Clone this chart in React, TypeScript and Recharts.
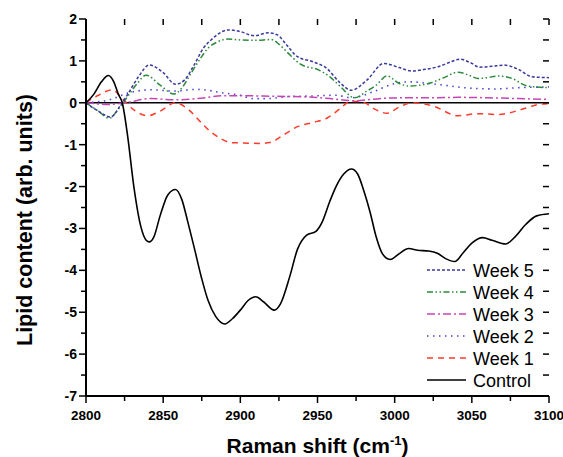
import React from 'react';
import { LineChart, Line, XAxis, YAxis, ReferenceLine } from 'recharts';

const xTicks = [2800, 2825, 2850, 2875, 2900, 2925, 2950, 2975, 3000, 3025, 3050, 3075, 3100];
const yTicks = [-7, -6.5, -6, -5.5, -5, -4.5, -4, -3.5, -3, -2.5, -2, -1.5, -1, -0.5, 0, 0.5, 1, 1.5, 2];

const controlX = [2800, 2805, 2810, 2814.5, 2818, 2821, 2823.5, 2827, 2831, 2835.5, 2839, 2841, 2844, 2848, 2853, 2858, 2862, 2866, 2870, 2875, 2879, 2884, 2890, 2895, 2900, 2905, 2910, 2915, 2922, 2926, 2932, 2937, 2943, 2949, 2953, 2958, 2962, 2967, 2972, 2976, 2980, 2984, 2988, 2992, 2997, 3003, 3009, 3015, 3022, 3028, 3033, 3039, 3044, 3050, 3057, 3063, 3072, 3078, 3085, 3092, 3100];
const controlY = [0, 0.2, 0.5, 0.65, 0.5, 0.2, 0, -0.8, -2.0, -2.95, -3.28, -3.32, -3.2, -2.7, -2.2, -2.07, -2.3, -2.85, -3.44, -4.2, -4.71, -5.1, -5.28, -5.15, -4.95, -4.72, -4.63, -4.75, -4.95, -4.8, -4.15, -3.5, -3.16, -3.07, -2.85, -2.35, -2.0, -1.7, -1.58, -1.7, -2.1, -2.6, -3.2, -3.6, -3.74, -3.6, -3.48, -3.52, -3.54, -3.6, -3.72, -3.79, -3.6, -3.35, -3.22, -3.28, -3.37, -3.2, -2.9, -2.7, -2.65];

const week5X = [2800, 2808, 2816, 2822, 2827, 2834, 2841, 2850, 2858, 2864, 2870, 2876, 2881, 2886, 2892, 2900, 2909, 2918, 2924, 2930, 2937, 2947, 2956, 2964, 2972, 2982, 2993, 3003, 3011, 3020, 3028, 3036, 3042, 3049, 3055, 3063, 3071, 3080, 3089, 3100];
const week5Y = [0, -0.2, -0.34, -0.08, 0.2, 0.62, 0.9, 0.72, 0.44, 0.55, 0.9, 1.3, 1.5, 1.65, 1.74, 1.7, 1.6, 1.67, 1.62, 1.38, 1.1, 0.98, 0.82, 0.5, 0.3, 0.54, 0.94, 0.84, 0.76, 0.8, 0.86, 0.97, 1.04, 0.96, 0.85, 0.87, 0.9, 0.8, 0.62, 0.6];

const week4X = [2800, 2808, 2815, 2821, 2827, 2833, 2839, 2848, 2857, 2862, 2868, 2874, 2879, 2885, 2892, 2900, 2910, 2920, 2925, 2930, 2939, 2951, 2958, 2965, 2974, 2982, 2988, 2995, 3003, 3009, 3022, 3032, 3041, 3048, 3054, 3060, 3067, 3076, 3086, 3100];
const week4Y = [0, -0.2, -0.37, -0.15, 0.15, 0.45, 0.66, 0.42, 0.21, 0.35, 0.7, 1.05, 1.3, 1.45, 1.52, 1.5, 1.49, 1.51, 1.4, 1.22, 0.92, 0.78, 0.62, 0.38, 0.12, 0.28, 0.42, 0.64, 0.46, 0.4, 0.46, 0.6, 0.73, 0.66, 0.58, 0.6, 0.64, 0.58, 0.4, 0.36];

const week3X = [2800, 2815, 2828, 2842, 2857, 2872, 2890, 2900, 2915, 2930, 2943, 2958, 2974, 2985, 2995, 3010, 3025, 3041, 3060, 3080, 3100];
const week3Y = [0, -0.04, 0.02, 0.1, 0.07, 0.1, 0.17, 0.17, 0.16, 0.15, 0.14, 0.1, 0.05, 0.08, 0.11, 0.12, 0.12, 0.13, 0.12, 0.1, 0.08];

const week2X = [2800, 2815, 2827, 2842, 2857, 2872, 2890, 2900, 2908, 2917, 2932, 2945, 2962, 2972, 2986, 2999, 3010, 3020, 3032, 3045, 3065, 3080, 3100];
const week2Y = [0, 0.07, 0.23, 0.31, 0.28, 0.32, 0.23, 0.18, 0.1, 0.1, 0.15, 0.16, 0.18, 0.12, 0.26, 0.45, 0.5, 0.47, 0.42, 0.36, 0.33, 0.36, 0.38];

const week1X = [2800, 2808, 2817, 2823, 2831, 2840, 2848, 2858, 2866, 2874, 2881, 2887, 2894, 2902, 2912, 2919, 2928, 2937, 2947, 2956, 2965, 2971, 2978, 2988, 2995, 3003, 3011, 3025, 3041, 3054, 3067, 3083, 3093, 3100];
const week1Y = [0, 0.18, 0.31, 0.12, -0.17, -0.31, -0.2, 0.0, -0.15, -0.45, -0.7, -0.85, -0.95, -0.96, -0.97, -0.95, -0.77, -0.57, -0.47, -0.37, -0.13, 0.03, 0.03, -0.17, -0.25, -0.1, 0.0, -0.08, -0.31, -0.26, -0.28, -0.15, -0.04, -0.02];

const zip = (xs: number[], ys: number[]) => xs.map((x, i) => ({ x, y: ys[i] }));

const FONT = '"Liberation Sans", Arial, Helvetica, sans-serif';

const CHART_W = 563;
const CHART_H = 457;
const MARGIN = { top: 19, right: 14, bottom: 0, left: 0 };
const Y_AXIS_W = 86;
const X_AXIS_H = 61;
const PLOT_W = CHART_W - MARGIN.left - MARGIN.right - Y_AXIS_W;
const PLOT_H = CHART_H - MARGIN.top - MARGIN.bottom - X_AXIS_H;

const series = [
  { name: 'Week 1', data: zip(week1X, week1Y), color: '#FF3B2B', dash: '6 5', width: 1.5 },
  { name: 'Week 2', data: zip(week2X, week2Y), color: '#4646D6', dash: '1.5 4.5', width: 1.6 },
  { name: 'Week 3', data: zip(week3X, week3Y), color: '#C645B4', dash: '8 3 2 3', width: 1.5 },
  { name: 'Week 4', data: zip(week4X, week4Y), color: '#2C8A3C', dash: '6 2.5 1.5 2.5 1.5 2.5', width: 1.5 },
  { name: 'Week 5', data: zip(week5X, week5Y), color: '#3A3A9A', dash: '3 2', width: 1.5 },
  { name: 'Control', data: zip(controlX, controlY), color: '#000000', dash: undefined, width: 1.6 },
];

const legendOrder = ['Week 5', 'Week 4', 'Week 3', 'Week 2', 'Week 1', 'Control'];

const BottomTick = (props: any) => {
  const { x, y, payload } = props;
  const v = payload.value;
  const major = v % 50 === 0;
  const top = y - PLOT_H;
  return (
    <g>
      <line x1={x} x2={x} y1={y} y2={y + (major ? 7 : 5)} stroke="#000" strokeWidth={1.5} />
      <line x1={x} x2={x} y1={top} y2={top + 6} stroke="#000" strokeWidth={1.5} />
      {major && (
        <text x={x} y={y + 24} textAnchor="middle" fontFamily={FONT} fontWeight="bold" fontSize={13.5} fill="#000">
          {v}
        </text>
      )}
    </g>
  );
};

const LeftTick = (props: any) => {
  const { x, y, payload } = props;
  const v = payload.value;
  const major = Number.isInteger(v);
  const right = x + PLOT_W;
  return (
    <g>
      <line x1={x} x2={x - (major ? 7 : 5)} y1={y} y2={y} stroke="#000" strokeWidth={1.5} />
      <line x1={right} x2={right - 6} y1={y} y2={y} stroke="#000" strokeWidth={1.5} />
      {major && (
        <text x={x - 9} y={y} dy="0.36em" textAnchor="end" fontFamily={FONT} fontWeight="bold" fontSize={14} fill="#000">
          {v}
        </text>
      )}
    </g>
  );
};

const XTitle = (props: any) => {
  const vb = props.viewBox || { x: 86, y: 396, width: 463 };
  return (
    <text x={vb.x + vb.width / 2} y={vb.y + 57} textAnchor="middle" fontFamily={FONT} fontWeight="bold" fontSize={21} fill="#000">
      Raman shift (cm
      <tspan dy={-8} fontSize={13}>-1</tspan>
      <tspan dy={8}>)</tspan>
    </text>
  );
};

const YTitle = () => {
  return (
    <text transform="translate(31.5,220) rotate(-90)" textAnchor="middle" fontFamily={FONT} fontWeight="bold" fontSize={21.5} fill="#000">
      Lipid content (arb. units)
    </text>
  );
};

export default function App() {
  return (
    <div style={{ position: 'absolute', left: 0, top: 0, width: CHART_W, height: CHART_H, background: '#fff' }}>
      <LineChart width={CHART_W} height={CHART_H} margin={MARGIN}>
        <XAxis
          xAxisId={0}
          dataKey="x"
          type="number"
          domain={[2800, 3100]}
          ticks={xTicks}
          interval={0}
          allowDataOverflow
          height={X_AXIS_H}
          tickSize={0}
          tickMargin={0}
          tickLine={false}
          tick={(p: any) => <BottomTick {...p} />}
          axisLine={{ stroke: '#000', strokeWidth: 2 }}
          label={{ content: (p: any) => <XTitle {...p} /> }}
        />
        <XAxis
          xAxisId="top"
          orientation="top"
          dataKey="x"
          type="number"
          domain={[2800, 3100]}
          height={0}
          tick={false}
          tickLine={false}
          axisLine={{ stroke: '#000', strokeWidth: 2 }}
        />
        <YAxis
          yAxisId={0}
          type="number"
          domain={[-7, 2]}
          ticks={yTicks}
          interval={0}
          allowDataOverflow
          width={Y_AXIS_W}
          tickSize={0}
          tickMargin={0}
          tickLine={false}
          tick={(p: any) => <LeftTick {...p} />}
          axisLine={{ stroke: '#000', strokeWidth: 2 }}
          label={{ content: () => <YTitle /> }}
        />
        <YAxis
          yAxisId="right"
          orientation="right"
          type="number"
          domain={[-7, 2]}
          width={0}
          tick={false}
          tickLine={false}
          axisLine={{ stroke: '#000', strokeWidth: 2 }}
        />
        <ReferenceLine y={0} xAxisId={0} yAxisId={0} stroke="#000" strokeWidth={1.6} />
        {series.map((s) => (
          <Line
            key={s.name}
            xAxisId={0}
            yAxisId={0}
            data={s.data}
            dataKey="y"
            name={s.name}
            type="monotone"
            stroke={s.color}
            strokeWidth={s.width}
            strokeDasharray={s.dash}
            dot={false}
            activeDot={false}
            isAnimationActive={false}
          />
        ))}
      </LineChart>
      <svg width={CHART_W} height={CHART_H} style={{ position: 'absolute', left: 0, top: 0, pointerEvents: 'none' }}>
        {legendOrder.map((name, i) => {
          const s = series.find((q) => q.name === name)!;
          const cy = 270 + i * 22;
          return (
            <g key={name}>
              <line x1={427} x2={466} y1={cy} y2={cy} stroke={s.color} strokeWidth={s.width} strokeDasharray={s.dash} />
              <text x={473} y={cy + 6.5} fontFamily={FONT} fontSize={18} fill="#000">
                {name}
              </text>
            </g>
          );
        })}
      </svg>
    </div>
  );
}
